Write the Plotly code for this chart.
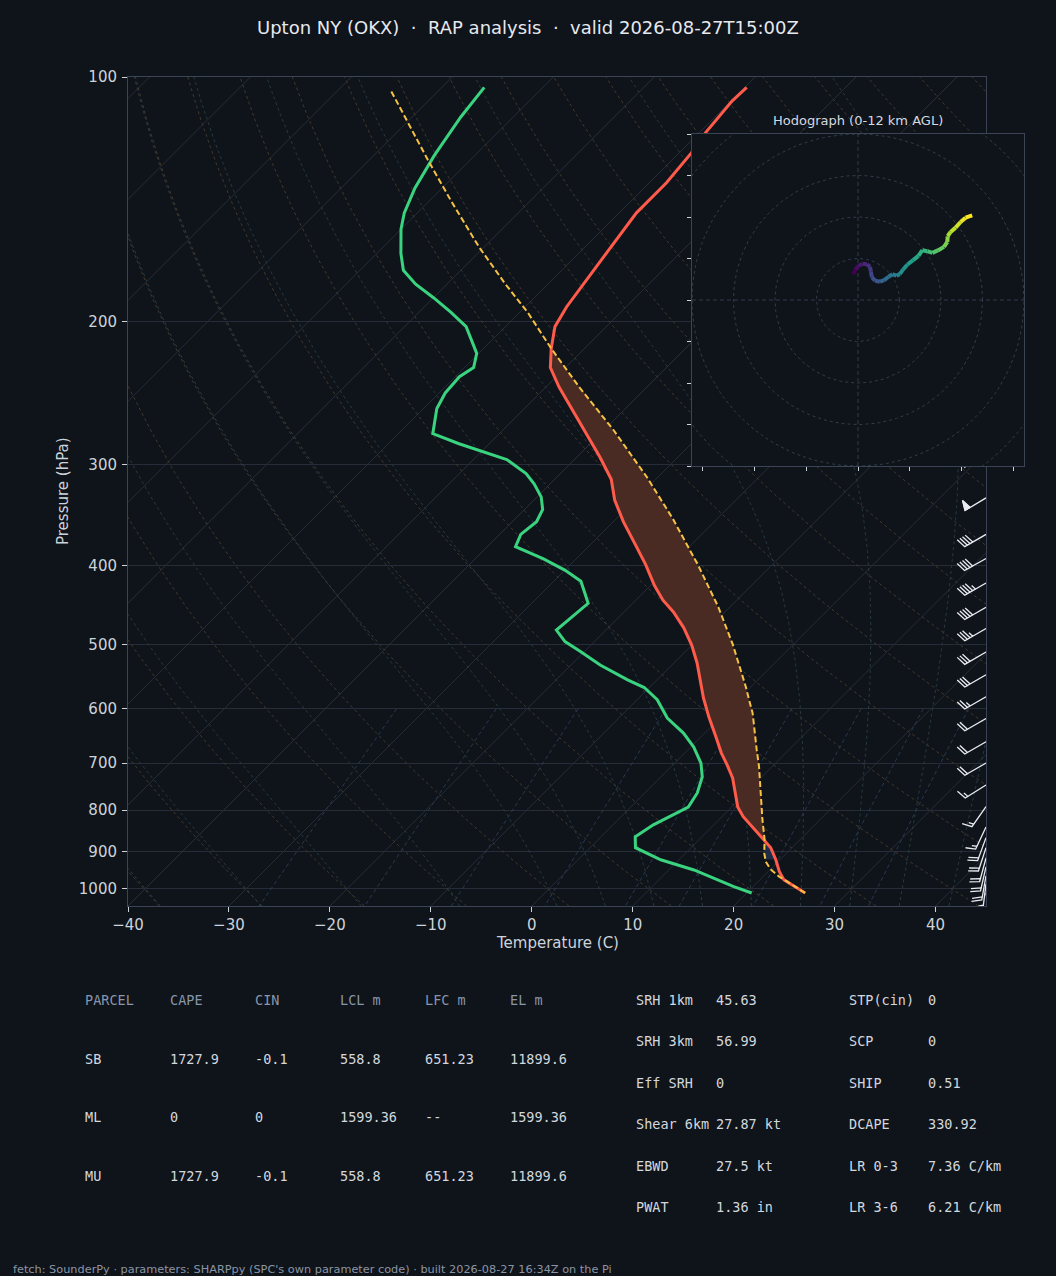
import numpy as np
import plotly.graph_objects as go
from plotly.colors import sample_colorscale

W, H = 1056, 1276
BG = '#0f131a'
FG = '#cdd3da'

# pixel boxes of the two panels (skew-T and hodograph inset)
SK_L, SK_R, SK_T, SK_B = 128, 986, 77, 906
HO_L, HO_R, HO_T, HO_B = 692, 1024, 134, 466

T_MIN, T_MAX = -40, 45
P_TOP, P_BOT = 100, 1050

# ---- sounding (hPa, degC) ----
temp_p = [1012, 975, 952, 921, 890, 870, 846, 815, 793, 766, 730, 704, 680, 650,
          614, 582, 553, 527, 501, 477, 456, 441, 423, 399, 377, 353, 332, 313,
          294, 267, 241, 228, 216, 203, 192, 174, 154, 147, 135, 124, 117, 107, 103]
temp_c = [25.8, 22.4, 21.1, 19.6, 17.9, 16.4, 14.5, 12.1, 10.6, 9.2, 7.2, 5.4, 3.6, 1.5,
          -1.2, -3.6, -5.7, -7.7, -10.0, -12.5, -15.1, -17.3, -19.6, -22.5, -25.5, -29.0, -32.0, -34.4,
          -37.7, -43.0, -48.7, -51.5, -53.3, -55.1, -55.9, -56.8, -57.9, -58.3, -58.3, -58.8, -59.4, -59.9, -59.8]

dewp_p = [1012, 994, 948, 921, 890, 863, 834, 811, 793, 762, 728, 700, 669, 643,
          616, 585, 565, 553, 530, 510, 496, 480, 462, 445, 418, 405, 392, 379,
          366, 353, 341, 329, 317, 308, 296, 283, 275, 256, 245, 234, 228, 219,
          203, 195, 187, 180, 173, 165, 154, 147, 137, 125, 112, 103]
dewp_c = [20.5, 18.1, 12.5, 8.2, 4.5, 3.4, 4.0, 5.0, 5.7, 5.2, 4.1, 2.6, 0.3, -2.1,
          -5.2, -8.0, -10.5, -12.9, -17.1, -20.4, -22.9, -24.9, -24.7, -24.4, -27.3, -30.0, -33.3, -37.2,
          -37.9, -37.6, -38.2, -39.6, -41.6, -43.4, -46.7, -53.0, -56.6, -58.7, -59.4, -59.6, -59.1, -60.2,
          -63.9, -66.8, -70.0, -73.1, -75.7, -77.6, -80.0, -81.3, -82.7, -84.0, -85.2, -85.8]

parcel_p = [1012, 966, 946, 926, 904, 870, 822, 762, 707, 674, 608, 585, 564,
            500, 450, 400, 350, 311, 272, 241, 216, 195, 180, 162, 143, 127, 115, 104]
parcel_c = [25.8, 21.6, 20.0, 18.8, 17.8, 16.5, 14.3, 11.5, 8.7, 6.8, 2.8, 1.1, -0.5,
            -6.0, -11.1, -17.2, -24.4, -31.1, -39.1, -46.7, -53.3, -59.2, -64.2, -70.5, -77.5,
            -84.0, -89.3, -94.7]
cin_base_p = 920
el_p = 216

# wind barbs along the right edge (hPa, deg from, kt)
wind_p = [292, 330, 366, 392, 420, 450, 478, 511, 545, 580, 617, 659, 700, 745, 792,
          839, 865, 890, 916, 940, 964, 986, 1012]
wind_dir = [240, 239, 240, 241, 240, 240, 240, 240, 240, 240, 240, 240, 240, 238, 215,
            205, 200, 198, 195, 193, 190, 187, 170]
wind_kt = [60, 50, 40, 40, 45, 40, 35, 30, 30, 25, 20, 20, 20, 15, 15,
           15, 20, 20, 20, 20, 20, 15, 10]

# hodograph trace (kt), low to high
hodo_u = [-1.12, -0.64, 0.08, 1.12, 2.16, 2.88, 3.12, 3.36, 4.16, 5.28, 6.32, 7.36, 8.32,
          9.28, 10.08, 10.88, 11.92, 13.28, 14.56, 15.52, 16.72, 17.92, 19.36, 20.72,
          21.52, 21.6, 22.32, 23.52, 24.72, 25.92, 27.52]
hodo_v = [6.24, 7.36, 8.24, 8.72, 8.64, 8.0, 6.8, 5.44, 4.64, 4.4, 4.8, 5.6, 6.24,
          5.84, 6.24, 7.36, 8.56, 9.6, 10.64, 12.0, 11.76, 11.36, 12.0, 12.8,
          14.0, 15.36, 16.4, 17.44, 18.8, 19.84, 20.4]
hodo_rings = [10, 20, 30, 40, 50]

p_ticks = [100, 200, 300, 400, 500, 600, 700, 800, 900, 1000]
t_ticks = [-40, -30, -20, -10, 0, 10, 20, 30, 40]

title = 'Upton NY (OKX)\u00a0\u00a0·\u00a0\u00a0RAP analysis\u00a0\u00a0·\u00a0\u00a0valid 2026-08-27T15:00Z'
footer = "fetch: SounderPy · parameters: SHARPpy (SPC's own parameter code) · built 2026-08-27 16:34Z on the Pi"

parcel_cols = ['PARCEL', 'CAPE', 'CIN', 'LCL m', 'LFC m', 'EL m']
parcel_rows = [['SB', '1727.9', '-0.1', '558.8', '651.23', '11899.6'],
               ['ML', '0', '0', '1599.36', '--', '1599.36'],
               ['MU', '1727.9', '-0.1', '558.8', '651.23', '11899.6']]
params_a = [('SRH 1km', '45.63'), ('SRH 3km', '56.99'), ('Eff SRH', '0'),
            ('Shear 6km', '27.87 kt'), ('EBWD', '27.5 kt'), ('PWAT', '1.36 in')]
params_b = [('STP(cin)', '0'), ('SCP', '0'), ('SHIP', '0.51'),
            ('DCAPE', '330.92'), ('LR 0-3', '7.36 C/km'), ('LR 3-6', '6.21 C/km')]

# ---- skew geometry ----
PX_X = (SK_R - SK_L) / (T_MAX - T_MIN)
PX_DEC = (SK_B - SK_T) / np.log10(P_BOT / P_TOP)
SKEW = PX_DEC / PX_X  # 45 degree isotherms


def skew_x(t, p):
    return np.asarray(t, float) + SKEW * np.log10(P_BOT / np.asarray(p, float))


RD, CP, LV, EPS = 287.04749, 1004.6662, 2.50084e6, 0.622


def dtdp(p, t):
    es = 6.112 * np.exp(17.67 * (t - 273.15) / (t - 29.65))
    rs = EPS * es / (p - es)
    return (RD * t + LV * rs) / (CP + LV * LV * rs * EPS / (RD * t * t)) / p


def moist_lapse(t0, ps):
    out, t = [t0], t0
    for a, b in zip(ps[:-1], ps[1:]):
        h = b - a
        k1 = dtdp(a, t)
        k2 = dtdp(a + h / 2, t + h * k1 / 2)
        k3 = dtdp(a + h / 2, t + h * k2 / 2)
        k4 = dtdp(b, t + h * k3)
        t = t + h * (k1 + 2 * k2 + 2 * k3 + k4) / 6
        out.append(t)
    return np.array(out)


def join(lines):
    xs, ys = [], []
    for x, y in lines:
        xs += list(x) + [None]
        ys += list(y) + [None]
    return xs, ys


fig = go.Figure()


def bg_line(lines, color, dash, width=0.9):
    xs, ys = join(lines)
    fig.add_trace(go.Scatter(x=xs, y=ys, mode='lines', hoverinfo='skip',
                             line=dict(color=color, width=width, dash=dash)))


p_grid = np.geomspace(P_BOT, P_TOP, 150)

# isotherms
bg_line([(skew_x(np.full_like(p_grid, t), p_grid), p_grid) for t in range(-150, 50, 10)],
        '#272e39', 'solid', 1)
# dry adiabats
bg_line([(skew_x(t0 * (p_grid / 1000) ** 0.2857 - 273.15, p_grid), p_grid)
         for t0 in np.arange(233, 533, 10)], '#4a3d2c', '3px,3px')
# moist adiabats
p_up = np.geomspace(1000, P_TOP, 160)
p_dn = np.geomspace(1000, P_BOT, 8)
moist = []
for t0 in list(range(-40, 0, 10)) + list(range(0, 46, 5)):
    tu = moist_lapse(t0 + 273.15, p_up)
    td = moist_lapse(t0 + 273.15, p_dn)
    pp = np.concatenate([p_dn[::-1], p_up[1:]])
    tt = np.concatenate([td[::-1], tu[1:]]) - 273.15
    moist.append((skew_x(tt, pp), pp))
bg_line(moist, '#283e43', '3px,3px')
# mixing ratio lines
p_mix = np.geomspace(600, P_BOT, 30)
mix = []
for w in [0.0004, 0.001, 0.002, 0.004, 0.007, 0.01, 0.016, 0.024, 0.032]:
    val = np.log(p_mix * w / (EPS + w) / 6.112)
    mix.append((skew_x(243.5 * val / (17.67 - val), p_mix), p_mix))
bg_line(mix, '#2a3d57', '4px,3px')

# CAPE / CIN shading between parcel and environment
lp = np.linspace(np.log10(cin_base_p), np.log10(el_p), 300)
pp = 10 ** lp
te = np.interp(-lp, -np.log10(temp_p), temp_c)
tpar = np.interp(-lp, -np.log10(parcel_p), parcel_c)
warm = tpar > te
start = 0
for i in range(1, len(pp) + 1):
    if i == len(pp) or warm[i] != warm[start]:
        end = min(i + 1, len(pp))
        sl = slice(start, end)
        xs = list(skew_x(tpar[sl], pp[sl])) + list(skew_x(te[sl], pp[sl])[::-1])
        ys = list(pp[sl]) + list(pp[sl][::-1])
        fig.add_trace(go.Scatter(x=xs, y=ys, mode='lines', fill='toself',
                                 fillcolor='#4a2b24' if warm[start] else '#1b2d49',
                                 line=dict(width=0), hoverinfo='skip'))
        start = i

fig.add_trace(go.Scatter(x=skew_x(dewp_c, dewp_p), y=dewp_p, mode='lines',
                         line=dict(color='#3ad37f', width=3)))
fig.add_trace(go.Scatter(x=skew_x(temp_c, temp_p), y=temp_p, mode='lines',
                         line=dict(color='#ff5b4b', width=3)))
fig.add_trace(go.Scatter(x=skew_x(parcel_c, parcel_p), y=parcel_p, mode='lines',
                         line=dict(color='#f5c243', width=2, dash='6px,3px')))

# wind barbs
BARB_LEN = 24.5


def barb(p0, wdir, spd):
    L = BARB_LEN
    sp, fh, fw = 0.125 * L, 0.4 * L, 0.25 * L
    d = np.radians(wdir)
    sx, sy = np.sin(d), -np.cos(d)
    bx, by = np.cos(d), np.sin(d)
    spd = 5 * int(round(spd / 5.0))
    nflag, rest = divmod(spd, 50)
    nbarb, rest = divmod(rest, 10)
    verts, flags = [(0.0, 0.0)], []
    off = L
    for _ in range(nflag):
        if off != L:
            off += sp / 2
        tri = [(0, off), (fh, off - fw / 2), (0, off - fw)]
        verts += tri
        flags.append(tri)
        off -= fw + sp
    for _ in range(nbarb):
        verts += [(0, off), (fh, off + fw / 2), (0, off)]
        off -= sp
    if rest >= 5:
        if off == L:
            verts.append((0, off))
            off -= 1.5 * sp
        verts += [(0, off), (fh / 2, off + fw / 4), (0, off)]

    def to_data(pts):
        xs = [T_MAX + (b * sx + a * bx) / PX_X for a, b in pts]
        ys = [p0 * 10 ** ((b * sy + a * by) / PX_DEC) for a, b in pts]
        return xs, ys
    return to_data(verts), [to_data(t) for t in flags]


staffs, pennants = [], []
for p0, wd, ws in zip(wind_p, wind_dir, wind_kt):
    s, f = barb(p0, wd, ws)
    staffs.append(s)
    pennants += f
bx_, by_ = join(staffs)
fig.add_trace(go.Scatter(x=bx_, y=by_, mode='lines', line=dict(color='#e8ecf1', width=1.3),
                         hoverinfo='skip'))
for fx, fy in pennants:
    fig.add_trace(go.Scatter(x=fx + [fx[0]], y=fy + [fy[0]], mode='lines', fill='toself',
                             fillcolor='#e8ecf1', line=dict(color='#e8ecf1', width=1),
                             hoverinfo='skip'))

# hodograph inset
theta = np.linspace(0, 2 * np.pi, 181)
rx, ry = join([(r * np.cos(theta), r * np.sin(theta)) for r in hodo_rings])
fig.add_trace(go.Scatter(x=rx, y=ry, mode='lines', xaxis='x2', yaxis='y2', hoverinfo='skip',
                         line=dict(color='#333c4a', width=1, dash='3px,3px')))
fig.add_trace(go.Scatter(x=[-40, 40, None, 0, 0], y=[0, 0, None, -40, 40], mode='lines',
                         xaxis='x2', yaxis='y2', hoverinfo='skip',
                         line=dict(color='#333c4a', width=1, dash='4px,3px')))
cols = sample_colorscale('Viridis', list(np.linspace(0, 1, len(hodo_u) - 1)))
for i in range(len(hodo_u) - 1):
    fig.add_trace(go.Scatter(x=hodo_u[i:i + 2], y=hodo_v[i:i + 2], mode='lines',
                             xaxis='x2', yaxis='y2', line=dict(color=cols[i], width=4)))

# text
ann = [dict(text=title, x=528 / W, y=1 - 27 / H, font=dict(size=18, color='#e6e9ee')),
       dict(text='Hodograph (0-12 km AGL)', x=858 / W, y=1 - 120 / H,
            font=dict(size=13, color='#d5dae0')),
       dict(text='Temperature (C)', x=557 / W, y=1 - 943 / H, font=dict(size=15, color=FG)),
       dict(text='Pressure (hPa)', x=63 / W, y=1 - 491 / H, textangle=-90,
            font=dict(size=15, color=FG)),
       dict(text=footer, x=12 / W, y=1 - 1269 / H, xanchor='left',
            font=dict(size=11.3, color='#8b95a5'))]
MONO = 'DejaVu Sans Mono'
col_x = [84, 169, 254, 339, 424, 509]
row_y = [1000, 1059, 1117, 1176]
for j, name in enumerate(parcel_cols):
    ann.append(dict(text=name, x=col_x[j] / W, y=1 - row_y[0] / H, xanchor='left',
                    font=dict(family=MONO, size=13.5, color='#8796ab')))
for r, row in enumerate(parcel_rows):
    for j, val in enumerate(row):
        ann.append(dict(text=val, x=col_x[j] / W, y=1 - row_y[r + 1] / H, xanchor='left',
                        font=dict(family=MONO, size=13.5, color='#d3d8df')))
prow_y = [1000, 1041, 1083, 1124, 1166, 1207]
for block, (lx, vx) in ((params_a, (635, 715)), (params_b, (848, 927))):
    for r, (lab, val) in enumerate(block):
        for txt, xx in ((lab, lx), (val, vx)):
            ann.append(dict(text=txt, x=xx / W, y=1 - prow_y[r] / H, xanchor='left',
                            font=dict(family=MONO, size=13.5, color='#d3d8df')))
for a in ann:
    a.setdefault('xanchor', 'center')
    a.update(xref='paper', yref='paper', yanchor='middle', showarrow=False, borderpad=0)

axis_line = '#3a4454'
fig.update_layout(
    width=W, height=H, margin=dict(l=0, r=0, t=0, b=0, pad=0, autoexpand=False),
    paper_bgcolor=BG, plot_bgcolor=BG, showlegend=False,
    font=dict(family='DejaVu Sans', color=FG),
    annotations=ann,
    xaxis=dict(domain=[SK_L / W, SK_R / W], range=[T_MIN, T_MAX], anchor='y',
               tickvals=t_ticks, ticktext=[str(t).replace('-', '\u2212') for t in t_ticks],
               ticks='outside', ticklen=5, tickcolor=FG, tickfont=dict(size=15, color=FG),
               showgrid=False, zeroline=False, showline=True, mirror=True,
               linecolor=axis_line, linewidth=1, automargin=False),
    yaxis=dict(domain=[1 - SK_B / H, 1 - SK_T / H], type='log', anchor='x',
               range=[np.log10(P_BOT), np.log10(P_TOP)],
               tickvals=p_ticks, ticktext=[str(p) for p in p_ticks],
               ticks='outside', ticklen=5, tickcolor=FG, tickfont=dict(size=15, color=FG),
               ticklabelstandoff=2,
               showgrid=True, gridcolor='#262d38', gridwidth=1, zeroline=False,
               showline=True, mirror=True, linecolor=axis_line, linewidth=1, automargin=False),
    xaxis2=dict(domain=[HO_L / W, HO_R / W], range=[-40, 40], anchor='y2',
                tick0=0, dtick=12.5, ticks='outside', ticklen=4, tickcolor=FG,
                showticklabels=False, showgrid=False, zeroline=False,
                showline=True, mirror=True, linecolor=axis_line),
    yaxis2=dict(domain=[1 - HO_B / H, 1 - HO_T / H], range=[-40, 40], anchor='x2',
                tick0=0, dtick=10, ticks='outside', ticklen=4, tickcolor=FG,
                showticklabels=False, showgrid=False, zeroline=False,
                showline=True, mirror=True, linecolor=axis_line),
)

fig.write_html("out.html", config={'displayModeBar': False},
               post_script="document.body.style.margin='0';")
